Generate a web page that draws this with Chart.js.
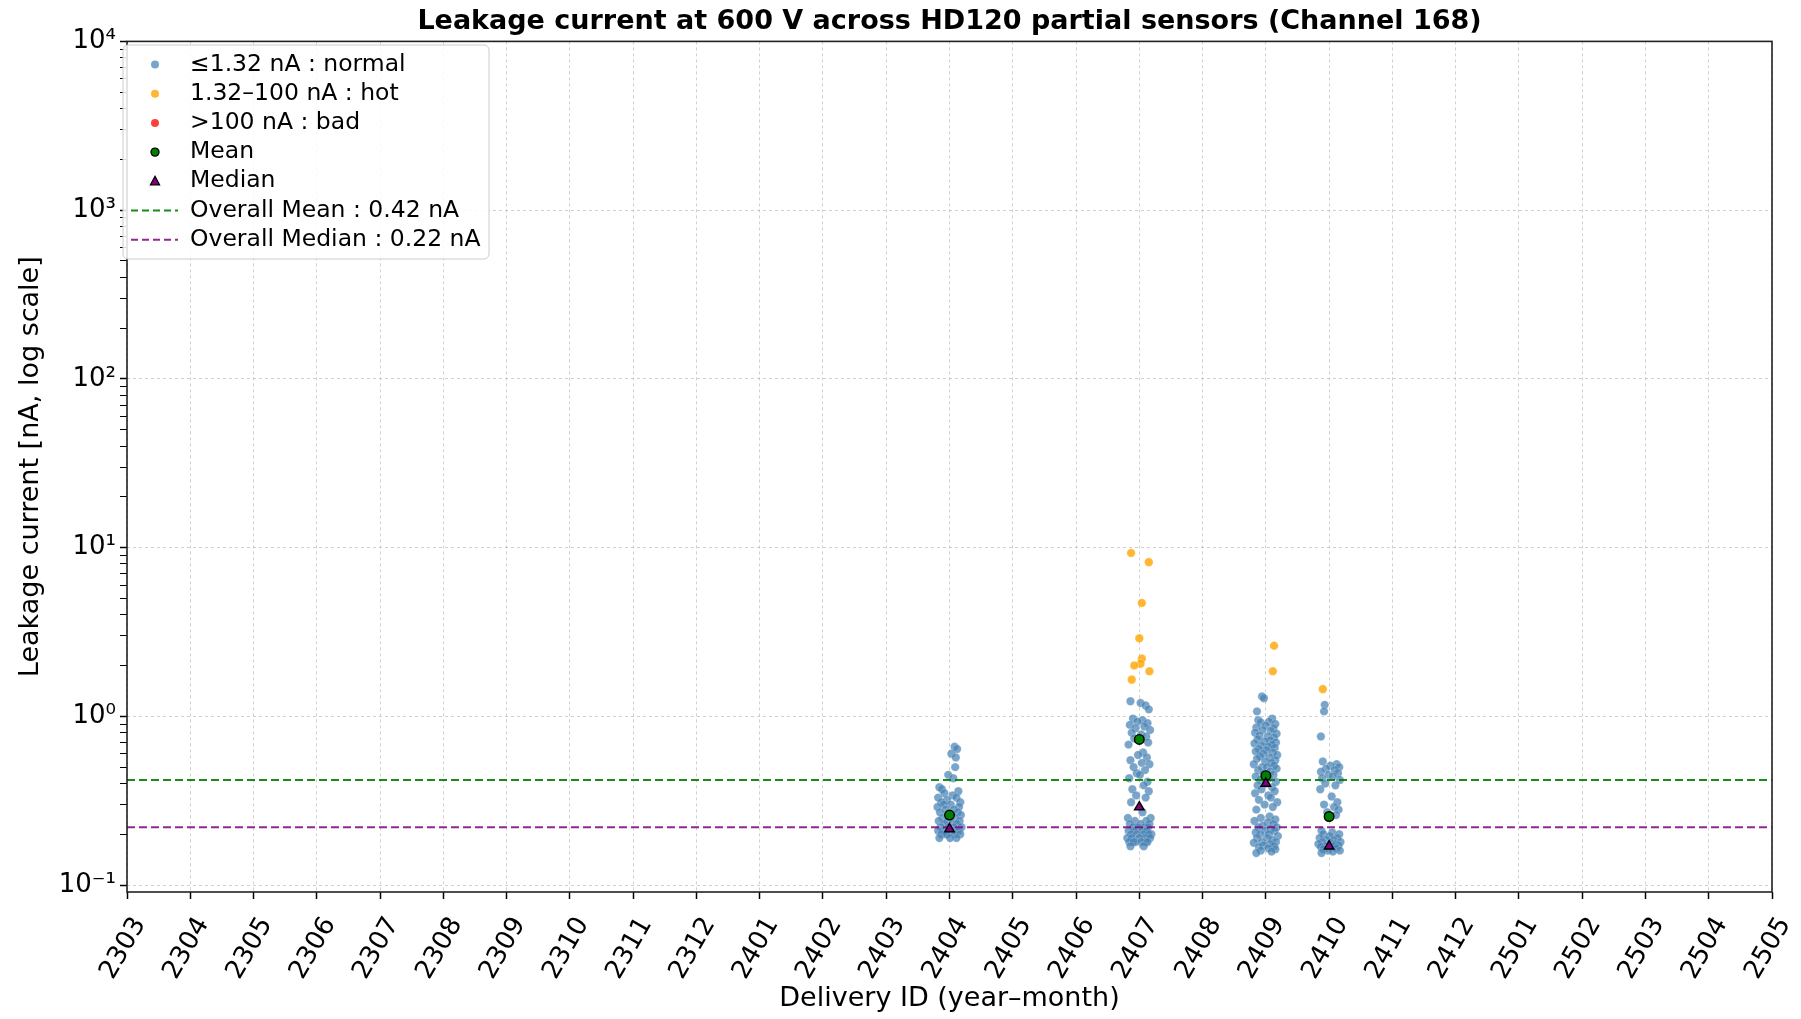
<!DOCTYPE html>
<html lang="en">
<head>
<meta charset="UTF-8">
<title>Leakage current at 600 V across HD120 partial sensors</title>
<style>
  html, body { margin: 0; padding: 0; background: #fff; }
  #wrap { width: 1801px; height: 1019px; position: relative; }
</style>
</head>
<body>
<div id="wrap"><canvas id="leakChart"></canvas></div>
<script src="https://cdn.jsdelivr.net/npm/chart.js"></script>
<script>
// delivery IDs on the x axis (year-month)
const categories = ['2303','2304','2305','2306','2307','2308','2309','2310','2311','2312',
  '2401','2402','2403','2404','2405','2406','2407','2408','2409','2410','2411','2412',
  '2501','2502','2503','2504','2505'];

// leakage current per sensor [nA], with the horizontal jitter used in the plot
const normal2404 = [0.66,0.64,0.60,0.57,0.50,0.45,0.43,0.38,0.37,0.36,0.35,0.34,0.33,0.33,0.32,0.31,0.31,0.30,0.30,0.29,
  0.29,0.28,0.28,0.27,0.27,0.26,0.26,0.25,0.25,0.24,0.24,0.24,0.23,0.23,0.23,0.22,0.22,0.22,0.22,0.21,
  0.21,0.21,0.21,0.21,0.20,0.20,0.20,0.20,0.20,0.19,0.19,0.19];
const jitter2404 = [0.08,0.12,0.03,0.10,0.09,-0.02,0.06,-0.16,-0.12,0.14,-0.08,0.05,-0.18,0.11,-0.04,0.17,-0.13,0.02,-0.09,0.15,
  -0.19,0.07,-0.06,0.13,-0.15,0.00,0.18,-0.11,0.09,-0.03,0.16,-0.17,0.04,-0.08,0.12,-0.14,0.06,-0.01,0.19,-0.10,
  0.10,-0.18,0.03,0.15,-0.06,0.08,-0.13,0.17,-0.04,0.11,-0.16,0.01];

const normal2407 = [1.23,1.20,1.16,1.10,0.97,0.95,0.93,0.91,0.89,0.87,0.85,0.83,0.80,0.78,0.76,0.74,0.70,0.68,0.61,0.59,
  0.57,0.55,0.53,0.52,0.50,0.48,0.46,0.45,0.43,0.41,0.39,0.37,0.36,0.34,0.33,0.31,0.27,0.25,0.25,0.24,
  0.24,0.23,0.23,0.23,0.22,0.22,0.22,0.22,0.21,0.21,0.21,0.21,0.20,0.20,0.20,0.20,0.20,0.19,0.19,0.19,
  0.19,0.19,0.18,0.18,0.18,0.18,0.18,0.18,0.17,0.17];
const jitter2407 = [-0.14,0.02,0.10,0.15,-0.10,0.05,-0.03,0.13,-0.15,0.08,-0.06,0.17,-0.12,0.03,0.11,-0.08,0.14,-0.17,0.06,-0.02,
  0.12,-0.14,0.04,0.16,-0.09,0.09,-0.04,0.01,-0.16,0.13,0.07,-0.11,0.15,-0.05,0.10,-0.13,0.05,-0.18,0.18,-0.07,
  0.11,-0.15,0.02,0.16,-0.10,0.08,-0.02,0.14,-0.17,0.04,0.12,-0.08,0.19,-0.13,0.06,-0.04,0.15,-0.19,0.09,0.00,
  -0.12,0.17,-0.06,0.10,-0.16,0.03,0.13,-0.09,0.07,-0.14];
const hot2407 = [9.3,8.2,4.7,2.9,2.2,2.05,2.0,1.85,1.65];
const hotJitter2407 = [-0.13,0.15,0.04,0.00,0.04,0.02,-0.08,0.16,-0.12];

const normal2409 = [1.31,1.28,1.07,0.97,0.95,0.93,0.92,0.90,0.88,0.86,0.85,0.83,0.82,0.80,0.79,0.77,0.76,0.75,0.73,0.72,
  0.71,0.70,0.69,0.68,0.67,0.66,0.65,0.64,0.63,0.62,0.61,0.60,0.59,0.58,0.57,0.56,0.55,0.54,0.53,0.52,
  0.51,0.50,0.50,0.49,0.48,0.47,0.46,0.45,0.44,0.43,0.42,0.41,0.40,0.39,0.38,0.37,0.36,0.35,0.34,0.33,
  0.32,0.31,0.30,0.29,0.28,0.255,0.25,0.245,0.24,0.235,0.23,0.225,0.22,0.22,0.215,0.21,0.21,0.205,0.20,0.20,
  0.195,0.19,0.19,0.185,0.18,0.18,0.178,0.175,0.172,0.17,0.168,0.165,0.163,0.16,0.158,0.155];
const jitter2409 = [-0.06,-0.03,-0.14,0.10,-0.12,0.05,-0.08,0.15,0.00,-0.15,0.12,-0.05,0.08,-0.17,0.17,-0.10,0.03,0.13,-0.13,0.07,
  -0.02,0.16,-0.18,0.10,-0.07,0.04,0.14,-0.11,0.01,-0.16,0.11,-0.04,0.18,-0.09,0.06,-0.14,0.15,-0.01,0.09,-0.19,
  0.13,-0.06,0.02,0.17,-0.12,0.07,-0.03,0.12,-0.16,0.05,-0.09,0.16,0.00,-0.13,0.10,-0.07,0.14,-0.17,0.04,0.08,
  -0.11,0.18,-0.02,0.11,-0.15,0.06,-0.08,0.15,-0.18,0.03,0.12,-0.05,0.17,-0.12,0.08,-0.01,0.14,-0.16,0.05,-0.09,
  0.19,-0.14,0.02,0.10,-0.06,0.16,-0.19,0.07,-0.03,0.13,-0.11,0.04,0.15,-0.08,0.09,-0.15];
const hot2409 = [2.62,1.85];
const hotJitter2409 = [0.13,0.11];

const normal2410 = [1.17,1.07,0.76,0.54,0.52,0.51,0.50,0.49,0.48,0.47,0.46,0.45,0.44,0.43,0.42,0.40,0.39,0.37,0.335,0.31,
  0.30,0.29,0.28,0.27,0.26,0.21,0.205,0.20,0.20,0.195,0.19,0.19,0.185,0.185,0.18,0.18,0.178,0.175,0.175,0.172,
  0.17,0.17,0.168,0.165,0.165,0.163,0.16,0.16,0.158,0.155];
const jitter2410 = [-0.07,-0.08,-0.13,-0.10,0.12,0.02,0.16,-0.05,0.09,-0.13,0.14,-0.01,0.06,-0.11,0.17,-0.06,0.10,-0.14,0.04,0.13,
  -0.08,0.08,0.15,-0.03,0.11,-0.12,0.05,0.16,-0.09,0.01,0.13,-0.15,0.07,-0.04,0.18,-0.11,0.03,0.10,-0.17,0.15,
  -0.06,0.08,-0.13,0.12,0.00,-0.09,0.17,-0.02,0.06,-0.12];
const hot2410 = [1.45];
const hotJitter2410 = [-0.10];

// per-delivery mean and median [nA]
const statCats = ['2404','2407','2409','2410'];
const meanValues = [0.26, 0.73, 0.445, 0.255];
const medianValues = [0.215, 0.29, 0.40, 0.17];

const overallMean = 0.42;
const overallMedian = 0.22;

const yDecades = [0.1, 1, 10, 100, 1000, 10000];
const decadeLabels = ['10\u207B\u00B9', '10\u2070', '10\u00B9', '10\u00B2', '10\u00B3', '10\u2074'];

const blue = 'rgba(70,130,180,0.72)';
const orange = 'rgba(255,165,0,0.8)';
const red = 'rgba(255,0,0,0.75)';
const green = 'rgba(0,128,0,0.9)';
const purple = 'rgba(128,0,128,0.85)';

function jittered(cat, values, jitter) {
  const base = categories.indexOf(cat);
  return values.map((v, i) => ({ x: base + jitter[i], y: v }));
}

const normalPoints = [].concat(
  jittered('2404', normal2404, jitter2404),
  jittered('2407', normal2407, jitter2407),
  jittered('2409', normal2409, jitter2409),
  jittered('2410', normal2410, jitter2410));
const hotPoints = [].concat(
  jittered('2407', hot2407, hotJitter2407),
  jittered('2409', hot2409, hotJitter2409),
  jittered('2410', hot2410, hotJitter2410));
const meanPoints = statCats.map((c, i) => ({ x: categories.indexOf(c), y: meanValues[i] }));
const medianPoints = statCats.map((c, i) => ({ x: categories.indexOf(c), y: medianValues[i] }));
const lastIdx = categories.length - 1;

// minor + major ticks for the log axis
const yTickValues = [];
yDecades.forEach(d => {
  yTickValues.push(d);
  if (d < 10000) for (let m = 2; m <= 9; m++) yTickValues.push(d * m);
});
function isDecade(v) {
  return yDecades.some(d => Math.abs(v / d - 1) < 1e-6);
}

Chart.defaults.font.family = "'DejaVu Sans', sans-serif";
Chart.defaults.color = '#000';

// legend drawn inside the axes, matplotlib style
const legendItems = [
  { label: '\u22641.32 nA : normal', kind: 'dot', color: blue },
  { label: '1.32\u2013100 nA : hot', kind: 'dot', color: orange },
  { label: '>100 nA : bad', kind: 'dot', color: red },
  { label: 'Mean', kind: 'mean', color: 'green' },
  { label: 'Median', kind: 'median', color: 'purple' },
  { label: 'Overall Mean : ' + overallMean.toFixed(2) + ' nA', kind: 'line', color: green },
  { label: 'Overall Median : ' + overallMedian.toFixed(2) + ' nA', kind: 'line', color: purple }
];

const framePlugin = {
  id: 'frame',
  afterDraw(chart) {
    const { ctx, chartArea: a } = chart;
    ctx.save();
    ctx.strokeStyle = '#222';
    ctx.lineWidth = 1.6;
    ctx.strokeRect(a.left, a.top, a.right - a.left, a.bottom - a.top);

    // legend box
    const bx = a.left - 4, by = 45, bw = 366, bh = 214;
    ctx.beginPath();
    ctx.roundRect(bx, by, bw, bh, 5);
    ctx.fillStyle = 'rgba(255,255,255,0.85)';
    ctx.fill();
    ctx.strokeStyle = '#cccccc';
    ctx.lineWidth = 1;
    ctx.stroke();

    ctx.font = "23.5px 'DejaVu Sans', sans-serif";
    ctx.textBaseline = 'middle';
    legendItems.forEach((it, i) => {
      const y = 64.5 + i * 29.2;
      const mx = 155;
      if (it.kind === 'dot') {
        ctx.beginPath();
        ctx.arc(mx, y, 4, 0, Math.PI * 2);
        ctx.fillStyle = it.color;
        ctx.fill();
      } else if (it.kind === 'mean') {
        ctx.beginPath();
        ctx.arc(mx, y, 4, 0, Math.PI * 2);
        ctx.fillStyle = it.color;
        ctx.fill();
        ctx.strokeStyle = '#000';
        ctx.lineWidth = 1.3;
        ctx.stroke();
      } else if (it.kind === 'median') {
        ctx.beginPath();
        ctx.moveTo(mx, y - 5);
        ctx.lineTo(mx + 4.5, y + 3.5);
        ctx.lineTo(mx - 4.5, y + 3.5);
        ctx.closePath();
        ctx.fillStyle = it.color;
        ctx.fill();
        ctx.strokeStyle = '#000';
        ctx.lineWidth = 1.3;
        ctx.stroke();
      } else {
        ctx.beginPath();
        ctx.setLineDash([7, 4]);
        ctx.moveTo(131, y);
        ctx.lineTo(178, y);
        ctx.strokeStyle = it.color;
        ctx.lineWidth = 2;
        ctx.stroke();
        ctx.setLineDash([]);
      }
      ctx.fillStyle = '#000';
      ctx.fillText(it.label, 190, y);
    });
    ctx.restore();
  }
};

const ctx = document.getElementById('leakChart').getContext('2d');
new Chart(ctx, {
  type: 'scatter',
  data: {
    datasets: [
      { label: 'Median', data: medianPoints, pointStyle: 'triangle', pointRadius: 5.5,
        backgroundColor: 'purple', borderColor: '#000', borderWidth: 1.4, order: 0 },
      { label: 'Mean', data: meanPoints, pointStyle: 'circle', pointRadius: 4.8,
        backgroundColor: 'green', borderColor: '#000', borderWidth: 1.4, order: 1 },
      { label: 'Overall Mean', data: [{ x: 0, y: overallMean }, { x: lastIdx, y: overallMean }],
        showLine: true, pointRadius: 0, borderColor: green, borderWidth: 2, borderDash: [8, 4], order: 2 },
      { label: 'Overall Median', data: [{ x: 0, y: overallMedian }, { x: lastIdx, y: overallMedian }],
        showLine: true, pointRadius: 0, borderColor: purple, borderWidth: 2, borderDash: [8, 4], order: 2 },
      { label: '>100 nA : bad', data: [], pointRadius: 4.2, backgroundColor: red, order: 3 },
      { label: '1.32\u2013100 nA : hot', data: hotPoints, pointRadius: 4.3,
        backgroundColor: orange, borderColor: 'rgba(255,255,255,0.5)', borderWidth: 0.6, order: 4 },
      { label: '\u22641.32 nA : normal', data: normalPoints, pointRadius: 4.2,
        backgroundColor: blue, borderColor: 'rgba(255,255,255,0.35)', borderWidth: 0.6, order: 5 }
    ]
  },
  options: {
    responsive: true,
    maintainAspectRatio: false,
    animation: false,
    devicePixelRatio: 1,
    layout: { padding: { left: 10, right: 29, top: 0, bottom: 0 } },
    plugins: {
      legend: { display: false },
      tooltip: { enabled: false },
      title: {
        display: true,
        fullSize: false,
        text: 'Leakage current at 600 V across HD120 partial sensors (Channel 168)',
        font: { size: 27, weight: 'bold' },
        color: '#000',
        padding: { top: 6, bottom: 3 }
      }
    },
    scales: {
      x: {
        type: 'linear',
        min: 0,
        max: lastIdx,
        afterBuildTicks: s => { s.ticks = categories.map((c, i) => ({ value: i })); },
        afterFit: s => { s.height = 127; s.paddingRight = 0; s.paddingLeft = 0; },
        ticks: {
          autoSkip: false,
          minRotation: 60,
          maxRotation: 60,
          labelOffset: 13,
          padding: 13,
          font: { size: 26 },
          callback: v => categories[v]
        },
        grid: { color: 'rgba(176,176,176,0.6)', lineWidth: 1, tickColor: '#000', tickLength: 7, tickWidth: 1.5 },
        border: { display: false, dash: [3, 3] },
        title: { display: true, text: 'Delivery ID (year\u2013month)', font: { size: 27 }, padding: { top: 0, bottom: 4 } }
      },
      y: {
        type: 'logarithmic',
        min: 0.091,
        max: 10000,
        afterBuildTicks: s => { s.ticks = yTickValues.map(v => ({ value: v })); },
        afterFit: s => { s.width = 117; },
        ticks: {
          autoSkip: false,
          padding: 4,
          font: { size: 26 },
          callback: v => {
            const k = yDecades.findIndex(d => Math.abs(v / d - 1) < 1e-6);
            return k >= 0 ? decadeLabels[k] : '';
          }
        },
        grid: {
          color: c => (c.tick && isDecade(c.tick.value)) ? 'rgba(176,176,176,0.6)' : 'rgba(0,0,0,0)',
          lineWidth: 1,
          tickColor: '#000',
          tickLength: 7,
          tickWidth: c => (c.tick && isDecade(c.tick.value)) ? 1.5 : 1
        },
        border: { display: false, dash: [3, 3] },
        title: { display: true, text: 'Leakage current [nA, log scale]', font: { size: 27 }, padding: 5 }
      }
    }
  },
  plugins: [framePlugin]
});
</script>
</body>
</html>
